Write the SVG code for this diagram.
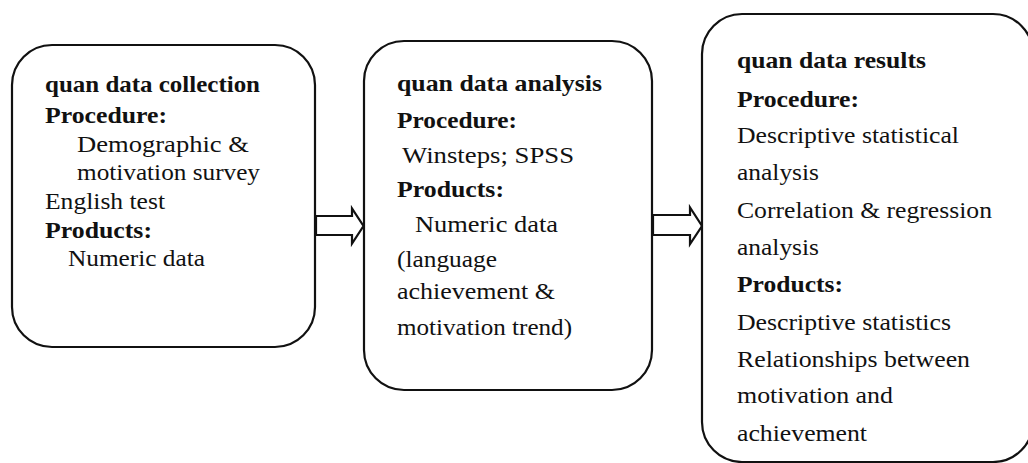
<svg xmlns="http://www.w3.org/2000/svg" width="1028" height="463" viewBox="0 0 1028 463">
<style>
.box{fill:#fff;stroke:#111;stroke-width:2.2}
.arr{fill:#fff;stroke:#111;stroke-width:2.2;stroke-linejoin:miter}
text{font-family:"Liberation Serif","Times New Roman",serif;font-size:24px;fill:#111}
.b{font-weight:bold}
</style>
<rect width="1028" height="463" fill="#fff"/>
<g id="connectors">
<path class="arr" d="M316,216 H352 V208.5 L363.5,226 L352,243.5 V235 H316 Z"/>
<path class="arr" d="M653,215 H690 V207.5 L702,226 L690,244 V235 H653 Z"/>
</g>
<g id="node-collection">
<rect class="box" x="12" y="45" width="303" height="302" rx="40" ry="40"/>
<text class="b" x="45" y="92" textLength="215" lengthAdjust="spacingAndGlyphs">quan data collection</text>
<text class="b" x="45" y="123" textLength="122" lengthAdjust="spacingAndGlyphs">Procedure:</text>
<text x="77" y="152" textLength="172" lengthAdjust="spacingAndGlyphs">Demographic &amp;</text>
<text x="77" y="180" textLength="183" lengthAdjust="spacingAndGlyphs">motivation survey</text>
<text x="45" y="209" textLength="120" lengthAdjust="spacingAndGlyphs">English test</text>
<text class="b" x="45" y="238" textLength="107" lengthAdjust="spacingAndGlyphs">Products:</text>
<text x="68" y="266" textLength="137" lengthAdjust="spacingAndGlyphs">Numeric data</text>
</g>
<g id="node-analysis">
<rect class="box" x="364" y="41" width="288" height="349" rx="40" ry="40"/>
<text class="b" x="397" y="91" textLength="205" lengthAdjust="spacingAndGlyphs">quan data analysis</text>
<text class="b" x="397" y="128" textLength="120" lengthAdjust="spacingAndGlyphs">Procedure:</text>
<text x="402" y="163" textLength="172" lengthAdjust="spacingAndGlyphs">Winsteps; SPSS</text>
<text class="b" x="397" y="197" textLength="107" lengthAdjust="spacingAndGlyphs">Products:</text>
<text x="415" y="232" textLength="143" lengthAdjust="spacingAndGlyphs">Numeric data</text>
<text x="397" y="267" textLength="100" lengthAdjust="spacingAndGlyphs">(language</text>
<text x="397" y="299" textLength="158" lengthAdjust="spacingAndGlyphs">achievement &amp;</text>
<text x="397" y="335" textLength="175" lengthAdjust="spacingAndGlyphs">motivation trend)</text>
</g>
<g id="node-results">
<rect class="box" x="702" y="14" width="331" height="448" rx="40" ry="40"/>
<text class="b" x="737" y="68" textLength="189" lengthAdjust="spacingAndGlyphs">quan data results</text>
<text class="b" x="737" y="107" textLength="122" lengthAdjust="spacingAndGlyphs">Procedure:</text>
<text x="737" y="143" textLength="222" lengthAdjust="spacingAndGlyphs">Descriptive statistical</text>
<text x="737" y="180" textLength="82" lengthAdjust="spacingAndGlyphs">analysis</text>
<text x="737" y="218" textLength="255" lengthAdjust="spacingAndGlyphs">Correlation &amp; regression</text>
<text x="737" y="255" textLength="82" lengthAdjust="spacingAndGlyphs">analysis</text>
<text class="b" x="737" y="292" textLength="106" lengthAdjust="spacingAndGlyphs">Products:</text>
<text x="737" y="330" textLength="214" lengthAdjust="spacingAndGlyphs">Descriptive statistics</text>
<text x="737" y="367" textLength="233" lengthAdjust="spacingAndGlyphs">Relationships between</text>
<text x="737" y="403" textLength="156" lengthAdjust="spacingAndGlyphs">motivation and</text>
<text x="737" y="441" textLength="130" lengthAdjust="spacingAndGlyphs">achievement</text>
</g>
</svg>
